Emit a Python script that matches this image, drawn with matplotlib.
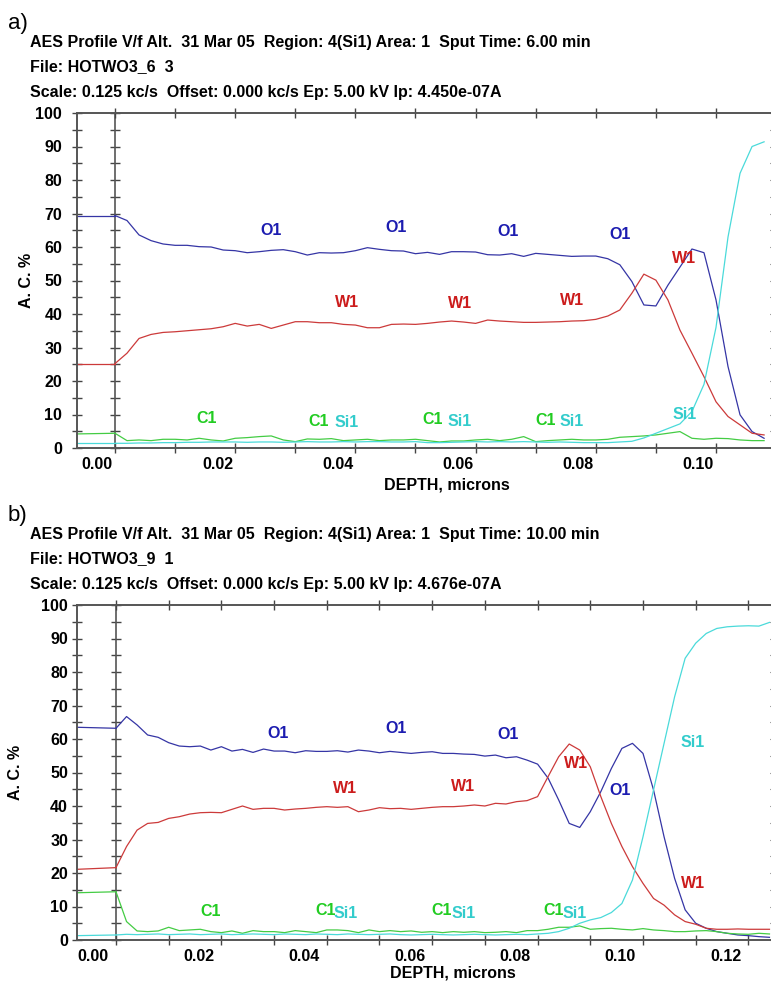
import matplotlib.pyplot as plt
import matplotlib.transforms as mtransforms
from matplotlib.ticker import MultipleLocator
import numpy as np

# ---- panel a: 6 min sputter, depth step 0.002 micron ----
depth_a = np.arange(55) * 0.002
o1_a = [69.4, 67.9, 63.6, 61.9, 60.9, 60.5, 60.5, 60.1, 60.0, 59.1,
        58.9, 58.3, 58.6, 59.0, 59.2, 58.6, 57.6, 58.3, 58.2, 58.3,
        58.9, 59.8, 59.3, 58.9, 58.8, 58.0, 58.4, 57.8, 58.6, 58.6,
        58.5, 57.7, 57.6, 58.0, 57.2, 58.1, 57.8, 57.5, 57.2, 57.3,
        57.3, 56.5, 54.7, 49.7, 42.7, 42.4, 48.6, 54.0, 59.4, 58.3,
        44.2, 24.3, 9.9, 4.9, 2.9]
w1_a = [25.2, 28.3, 32.7, 33.9, 34.5, 34.7, 35.0, 35.3, 35.6, 36.2,
        37.2, 36.4, 36.9, 35.7, 36.7, 37.7, 37.7, 37.4, 37.4, 36.9,
        36.7, 35.9, 35.9, 36.9, 37.0, 36.9, 37.2, 37.6, 37.9, 37.6,
        37.2, 38.2, 37.9, 37.7, 37.5, 37.5, 37.6, 37.7, 37.9, 38.0,
        38.4, 39.4, 41.2, 46.2, 51.9, 50.1, 44.2, 35.2, 28.3, 21.3,
        13.8, 9.4, 6.9, 4.4, 3.9]
c1_a = [4.4, 2.2, 2.4, 2.2, 2.6, 2.6, 2.4, 2.9, 2.4, 2.1,
        2.9, 3.1, 3.4, 3.6, 2.4, 1.9, 2.7, 2.6, 2.8, 2.2,
        2.4, 2.6, 2.2, 2.4, 2.4, 2.6, 2.2, 1.8, 2.1, 2.1,
        2.4, 2.6, 2.2, 2.6, 3.4, 1.9, 2.2, 2.4, 2.6, 2.4,
        2.4, 2.6, 3.2, 3.4, 3.6, 3.9, 4.4, 4.9, 2.9, 2.6,
        2.9, 2.8, 2.4, 2.2, 2.2]
si_a = [1.4, 1.4, 1.5, 1.5, 1.6, 1.6, 1.7, 1.7, 1.8, 1.8,
        1.8, 1.7, 1.8, 1.8, 1.7, 1.8, 1.9, 1.8, 1.8, 1.9,
        1.8, 1.9, 1.9, 1.8, 1.8, 1.9, 1.6, 1.6, 1.7, 1.8,
        1.9, 1.8, 1.9, 1.8, 1.9, 1.8, 1.7, 1.8, 1.7, 1.6,
        1.6, 1.6, 1.8, 2.0, 3.0, 4.4, 5.8, 7.2, 10.9, 19.0,
        36.0, 63.0, 82.0, 90.0, 91.4]
pre_a = [69.4, 25.2, 4.2, 1.4]   # O1, W1, C1, Si1 before sputtering
labels_a = [("O1", 0.026, 64.8), ("O1", 0.0468, 65.7), ("O1", 0.0654, 64.5), ("O1", 0.084, 63.6),
            ("W1", 0.0386, 43.3), ("W1", 0.0574, 43.0), ("W1", 0.076, 43.9), ("W1", 0.0947, 56.7),
            ("C1", 0.0153, 8.7), ("C1", 0.0339, 7.8), ("C1", 0.0529, 8.4), ("C1", 0.0717, 8.1),
            ("Si1", 0.0386, 7.5), ("Si1", 0.0574, 7.8), ("Si1", 0.076, 7.8), ("Si1", 0.0947, 9.9)]
header_a = ["AES Profile V/f Alt.  31 Mar 05  Region: 4(Si1) Area: 1  Sput Time: 6.00 min",
            "File: HOTWO3_6  3",
            "Scale: 0.125 kc/s  Offset: 0.000 kc/s Ep: 5.00 kV Ip: 4.450e-07A"]

# ---- panel b: 10 min sputter ----
depth_b = np.arange(63) * 0.002
o1_b = [63.2, 66.7, 64.2, 61.2, 60.5, 58.9, 57.9, 57.7, 57.9, 56.7,
        57.7, 56.4, 56.9, 56.0, 57.0, 56.4, 56.4, 55.9, 56.5, 56.3,
        56.3, 56.5, 56.1, 56.7, 56.4, 55.9, 56.3, 56.0, 55.7, 56.0,
        56.2, 55.7, 55.7, 55.5, 55.4, 54.9, 55.2, 54.4, 54.7, 53.7,
        52.5, 48.3, 41.8, 34.8, 33.6, 38.3, 44.3, 51.2, 57.2, 58.7,
        55.7, 44.8, 30.8, 18.4, 9.0, 5.0, 3.5, 2.5, 2.0, 1.5,
        1.3, 1.0, 0.8]
w1_b = [21.6, 27.9, 32.8, 34.8, 35.1, 36.3, 36.8, 37.6, 38.0, 38.1,
        38.0, 39.0, 40.0, 39.0, 39.3, 39.3, 38.8, 39.1, 39.3, 39.6,
        39.8, 39.6, 39.8, 38.3, 38.8, 39.5, 39.2, 39.3, 39.0, 39.3,
        39.6, 39.8, 39.8, 40.0, 40.3, 40.0, 40.8, 40.6, 41.3, 41.6,
        42.8, 48.8, 54.7, 58.5, 56.7, 51.7, 42.8, 34.8, 27.9, 21.9,
        16.9, 12.4, 10.4, 7.5, 5.5, 4.7, 3.5, 3.2, 3.2, 3.3,
        3.2, 3.2, 3.2]
c1_b = [14.4, 5.5, 2.7, 2.5, 2.7, 3.8, 2.8, 3.0, 3.2, 2.5,
        2.2, 2.7, 2.0, 2.8, 2.5, 2.5, 2.2, 2.8, 2.5, 2.2,
        3.0, 3.0, 2.8, 2.2, 3.0, 2.5, 2.8, 2.5, 2.7, 2.3,
        2.5, 2.2, 2.5, 2.3, 2.5, 2.2, 2.3, 2.5, 2.2, 2.8,
        2.8, 3.2, 3.8, 3.8, 4.2, 3.2, 3.4, 3.5, 3.2, 3.0,
        3.4, 3.0, 2.8, 2.5, 2.5, 2.7, 2.8, 2.5, 2.0, 1.8,
        1.7, 2.0, 1.8]
si_b = [1.5, 1.7, 1.6, 1.7, 1.8, 1.6, 1.7, 1.8, 1.6, 1.7,
        1.8, 1.6, 1.7, 1.8, 1.7, 1.6, 1.8, 1.7, 1.6, 1.8,
        1.7, 1.6, 1.8, 1.7, 1.6, 1.7, 1.8, 1.6, 1.5, 1.6,
        1.7, 1.6, 1.5, 1.6, 1.7, 1.6, 1.5, 1.6, 1.7, 1.6,
        1.8, 2.0, 2.5, 3.5, 5.0, 6.0, 6.7, 8.2, 10.9, 17.9,
        30.8, 44.8, 58.7, 72.6, 84.1, 88.6, 91.5, 93.0, 93.5, 93.7,
        93.8, 93.7, 94.8]
pre_b = [63.5, 21.1, 14.1, 1.3]
labels_b = [("O1", 0.0307, 61.5), ("O1", 0.0531, 63.0), ("O1", 0.0744, 61.2), ("O1", 0.0956, 44.5),
            ("W1", 0.0435, 45.1), ("W1", 0.0659, 45.7), ("W1", 0.0873, 52.8), ("W1", 0.1095, 17.0),
            ("C1", 0.018, 8.4), ("C1", 0.0397, 8.9), ("C1", 0.0618, 8.7), ("C1", 0.0831, 8.9),
            ("Si1", 0.0435, 7.8), ("Si1", 0.0659, 7.8), ("Si1", 0.0871, 7.8), ("Si1", 0.1095, 59.1)]
header_b = ["AES Profile V/f Alt.  31 Mar 05  Region: 4(Si1) Area: 1  Sput Time: 10.00 min",
            "File: HOTWO3_9  1",
            "Scale: 0.125 kc/s  Offset: 0.000 kc/s Ep: 5.00 kV Ip: 4.676e-07A"]

line_col = {"O1": "#3535a5", "W1": "#cc3a3a", "C1": "#44cc44", "Si1": "#4adada"}
text_col = {"O1": "#1c1cb0", "W1": "#cc1c1c", "C1": "#22cc22", "Si1": "#33cccc"}

W, H = 771, 982
fig = plt.figure(figsize=(W / 100, H / 100), dpi=100)
fonts = ["Liberation Sans", "DejaVu Sans"]


def make_panel(top_px, xlim, data, pre, labels, header, tag, xlab_dx, ylab_x, ypad, xlab_x, xlab_y):
    bottom_px = top_px + 335
    ax = fig.add_axes([77 / W, 1 - bottom_px / H, (774 - 77) / W, 335 / H])
    depth, o1, w1, c1, si = data
    for name, vals, p in zip(["O1", "W1", "C1", "Si1"], [o1, w1, c1, si], pre):
        ax.plot(depth, vals, color=line_col[name], lw=0.9)
        # flat pre-sputter segment left of depth zero
        ax.plot([xlim[0], 0], [p, vals[0]], color=line_col[name], lw=0.9)
    for name, x, y in labels:
        ax.text(x, y, name, color=text_col[name], fontsize=11.5, fontweight="bold",
                family=fonts, ha="center", va="center")

    ax.set_xlim(*xlim)
    ax.set_ylim(0, 100)
    ax.xaxis.set_major_locator(MultipleLocator(0.02))
    ax.xaxis.set_minor_locator(MultipleLocator(0.01))
    ax.yaxis.set_major_locator(MultipleLocator(10))
    ax.yaxis.set_minor_locator(MultipleLocator(5))
    ax.xaxis.set_major_formatter(lambda v, pos: f"{v:.2f}")
    for s in ax.spines.values():
        s.set_color("#555555")
        s.set_linewidth(1.4)
    ax.tick_params(which="both", direction="inout", length=7, width=1, color="#444444",
                   top=True, bottom=True, left=True, right=False)
    ax.tick_params(axis="x", which="major", labelsize=11.5, pad=3)
    ax.tick_params(axis="y", which="major", labelsize=11.5, pad=ypad)
    for lab in ax.get_xticklabels() + ax.get_yticklabels():
        lab.set_fontweight("bold")
        lab.set_family(fonts)
    off = mtransforms.ScaledTranslation(xlab_dx / 100, 0, fig.dpi_scale_trans)
    for lab in ax.get_xticklabels():
        lab.set_ha("right")
        lab.set_transform(lab.get_transform() + off)

    # right axis, mostly outside the figure: only short inward ticks show
    rax = ax.secondary_yaxis("right")
    rax.yaxis.set_major_locator(MultipleLocator(5))
    rax.tick_params(direction="in", length=3, color="#444444", labelright=False)
    rax.spines["right"].set_color("#555555")

    # vertical line at depth zero with crossing ticks
    loc = (0 - xlim[0]) / (xlim[1] - xlim[0])
    zax = ax.secondary_yaxis(loc)
    zax.yaxis.set_major_locator(MultipleLocator(5))
    zax.tick_params(direction="inout", length=7, width=1, color="#444444", labelleft=False)
    zax.spines["left"].set_color("#555555")
    zax.spines["left"].set_linewidth(1.2)

    ax.set_ylabel("A. C. %", fontsize=11.5, fontweight="bold", family=fonts)
    ax.yaxis.set_label_coords((ylab_x - 77) / (774 - 77), 0.5)
    ax.set_xlabel("DEPTH, microns", fontsize=11.5, fontweight="bold", family=fonts)
    ax.xaxis.set_label_coords((xlab_x - 77) / (774 - 77), -xlab_y / 335)

    fig.text(8 / W, 1 - (top_px - 90) / H, tag, fontsize=16, family=fonts, va="center")
    for i, line in enumerate(header):
        fig.text(30 / W, 1 - (top_px - 71 + 25 * i) / H, line, fontsize=11.5,
                 fontweight="bold", family=fonts, va="center")
    return ax


make_panel(113, (-0.00632, 0.10965), (depth_a, o1_a, w1_a, c1_a, si_a), pre_a,
           labels_a, header_a, "a)", -2, 34, 7.2, 447, 29)
make_panel(605, (-0.0074, 0.12486), (depth_b, o1_b, w1_b, c1_b, si_b), pre_b,
           labels_b, header_b, "b)", -7, 23, 3.0, 453, 25)

fig.savefig("out.png", dpi=100)
